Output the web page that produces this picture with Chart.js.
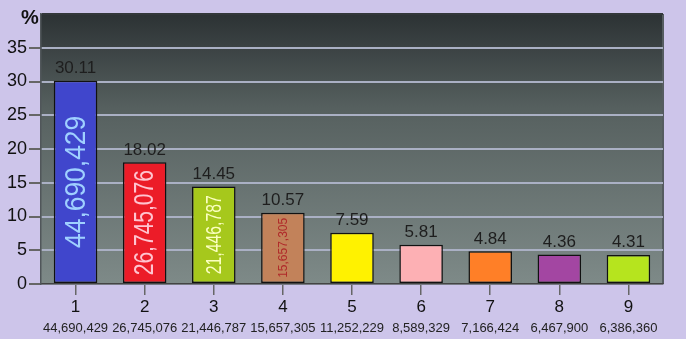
<!DOCTYPE html>
<html>
<head>
<meta charset="utf-8">
<script src="https://cdn.jsdelivr.net/npm/chart.js@4.4.0/dist/chart.umd.min.js"></script>
<style>
  html, body { margin: 0; padding: 0; background: #cdc5ea; }
  #wrap { width: 686px; height: 339px; }
</style>
</head>
<body>
<div id="wrap"><canvas id="shareChart"></canvas></div>
<script>
// data
var categories = ["1", "2", "3", "4", "5", "6", "7", "8", "9"];
var shares = [30.11, 18.02, 14.45, 10.57, 7.59, 5.81, 4.84, 4.36, 4.31];
var counts = ["44,690,429", "26,745,076", "21,446,787", "15,657,305", "11,252,229", "8,589,329", "7,166,424", "6,467,900", "6,386,360"];
var barColors = ["#4046cc", "#ec1c28", "#a6c81c", "#c2825a", "#fff200", "#fdb0b4", "#ff7f27", "#a346a2", "#b6e41e"];

// rotated count text inside the first bars: [font px, horizontal squeeze, colour]
var insideText = [
  [30, 0.88, "#9fd0ff"],
  [28, 0.75, "#ffc4d0"],
  [22, 0.72, "#fbffc0"],
  [12, 1.0, "#b02a2a"]
];

var font = "'Liberation Sans', Arial, sans-serif";

var plotBg = {
  id: 'plotBg',
  beforeDraw: function(chart) {
    var c = chart.ctx, a = chart.chartArea;
    var g = c.createLinearGradient(0, a.top, 0, a.bottom);
    g.addColorStop(0, "#2c3234");
    g.addColorStop(0.35, "#56605f");
    g.addColorStop(1, "#7e8a88");
    c.save();
    c.fillStyle = g;
    c.fillRect(a.left, a.top, a.right - a.left, a.bottom - a.top);
    c.strokeStyle = "#555c60";
    c.lineWidth = 2;
    c.beginPath();
    c.moveTo(a.right, a.top);
    c.lineTo(a.right, a.bottom);
    c.stroke();
    c.fillStyle = "#111";
    c.font = "bold 20px " + font;
    c.textAlign = "center";
    c.textBaseline = "middle";
    c.fillText("%", 30, 18);
    c.restore();
  }
};

var barText = {
  id: 'barText',
  afterDatasetsDraw: function(chart) {
    var c = chart.ctx;
    var bars = chart.getDatasetMeta(0).data;
    c.save();
    bars.forEach(function(b, i) {
      // value above the bar
      c.fillStyle = "#1e1e1e";
      c.font = "17px " + font;
      c.textAlign = "center";
      c.textBaseline = "bottom";
      c.fillText(shares[i].toFixed(2), b.x, b.y - 4);
      // count written up the bar
      if (insideText[i]) {
        var t = insideText[i];
        c.save();
        c.translate(b.x, (b.y + b.base) / 2);
        c.rotate(-Math.PI / 2);
        c.scale(t[1], 1);
        c.font = t[0] + "px " + font;
        c.fillStyle = t[2];
        c.textAlign = "center";
        c.textBaseline = "middle";
        c.fillText(counts[i], 0, 1);
        c.restore();
      }
    });
    // second line of x labels
    var x = chart.scales.x;
    c.fillStyle = "#222";
    c.font = "13px " + font;
    c.textAlign = "center";
    c.textBaseline = "middle";
    counts.forEach(function(n, i) {
      c.fillText(n, x.getPixelForTick(i), 328);
    });
    c.restore();
  }
};

var ctx = document.getElementById("shareChart");
var shareChart = new Chart(ctx, {
  type: 'bar',
  data: {
    labels: categories,
    datasets: [{
      data: shares,
      backgroundColor: barColors,
      borderColor: "#111",
      borderWidth: 1.5,
      borderSkipped: false,
      barPercentage: 0.63,
      categoryPercentage: 1
    }]
  },
  options: {
    responsive: true,
    maintainAspectRatio: false,
    animation: false,
    layout: { padding: { left: 0, right: 23, top: 14, bottom: 0 } },
    plugins: {
      legend: { display: false },
      tooltip: { enabled: false }
    },
    scales: {
      x: {
        afterFit: function(s) { s.height = 55; },
        grid: {
          offset: false,
          drawOnChartArea: false,
          drawTicks: true,
          tickLength: 11,
          tickColor: "#666",
          lineWidth: 1.5
        },
        border: { color: "#444", width: 1.5 },
        ticks: { color: "#111", font: { family: font, size: 17 }, padding: 2 }
      },
      y: {
        min: 0,
        max: 40,
        afterFit: function(s) { s.width = 41; },
        grid: {
          color: function(c) { return c.tick && c.tick.value === 40 ? "#33383a" : "#aab0c4"; },
          lineWidth: 2,
          tickLength: 12,
          tickColor: function(c) { return c.tick && c.tick.value === 40 ? "rgba(0,0,0,0)" : "#666"; }
        },
        border: { color: "#50565a", width: 1.5 },
        ticks: {
          stepSize: 5,
          color: "#111",
          padding: 2,
          font: { family: font, size: 18 },
          callback: function(v) { return v === 40 ? "" : v; }
        }
      }
    }
  },
  plugins: [plotBg, barText]
});
</script>
</body>
</html>
